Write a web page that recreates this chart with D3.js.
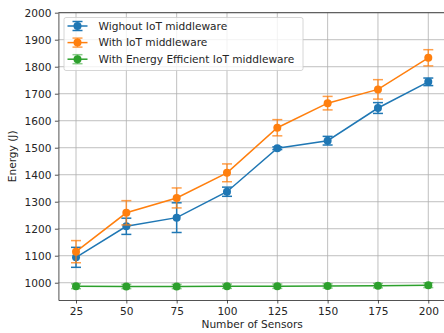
<!DOCTYPE html>
<html>
<head>
<meta charset="utf-8">
<script src="https://cdn.jsdelivr.net/npm/d3@7"></script>
<style>
  body { margin: 0; background: #fff; }
  text { font-family: "DejaVu Sans", sans-serif; fill: #262626; }
</style>
</head>
<body>
<div id="chart"></div>
<script>
// data
const sensors = [25, 50, 75, 100, 125, 150, 175, 200];
const seriesNames = ["Wighout IoT middleware", "With IoT middleware", "With Energy Efficient IoT middleware"];
const withoutMean = [1094, 1209, 1241, 1337, 1498, 1526, 1647, 1744];
const withoutErr  = [37, 30, 55, 17, 5, 16, 20, 14];
const withMean    = [1115, 1259, 1314, 1407, 1574, 1665, 1716, 1833];
const withErr     = [41, 45, 37, 33, 30, 25, 36, 30];
const effMean     = [987, 986, 986, 987, 987, 988, 989, 991];
const effErr      = [9, 8, 8, 8, 8, 8, 8, 9];
const yTicks = [1000, 1100, 1200, 1300, 1400, 1500, 1600, 1700, 1800, 1900, 2000];
const colors = ["#1f77b4", "#ff7f0e", "#2ca02c"];

const W = 444, H = 333;
const plot = { left: 58.4, right: 445.9, top: 12.7, bottom: 300 };

const svg = d3.select("#chart").append("svg")
  .attr("width", W).attr("height", H)
  .attr("viewBox", [0, 0, W, H]);

const x = d3.scaleLinear().domain([16.25, 208.75]).range([plot.left, plot.right]);
const y = d3.scaleLinear().domain([936, 2000]).range([plot.bottom, plot.top]);

// grid
const grid = svg.append("g");
grid.selectAll("line.gx").data(sensors).join("line")
  .attr("x1", d => x(d)).attr("x2", d => x(d))
  .attr("y1", plot.top).attr("y2", plot.bottom)
  .attr("stroke", "#b0b0b0").attr("stroke-width", 0.8);
grid.selectAll("line.gy").data(yTicks).join("line")
  .attr("x1", plot.left).attr("x2", plot.right)
  .attr("y1", d => y(d)).attr("y2", d => y(d))
  .attr("stroke", "#b0b0b0").attr("stroke-width", 0.8);

// axes
const xAxis = svg.append("g")
  .attr("transform", `translate(0,${plot.bottom})`)
  .call(d3.axisBottom(x).tickValues(sensors).tickFormat(d3.format("d"))
    .tickSize(3.5).tickPadding(3.5).tickSizeOuter(0));
const yAxis = svg.append("g")
  .attr("transform", `translate(${plot.left},0)`)
  .call(d3.axisLeft(y).tickValues(yTicks).tickFormat(d3.format("d"))
    .tickSize(3.5).tickPadding(3.5).tickSizeOuter(0));
[xAxis, yAxis].forEach(a => {
  a.selectAll("text").attr("font-size", 10.6).attr("font-family", "DejaVu Sans").attr("fill", "#262626");
  a.selectAll("line").attr("stroke", "#262626").attr("stroke-width", 0.8);
  a.select(".domain").attr("stroke", "#262626").attr("stroke-width", 0.8);
});
// top + right spines
svg.append("line").attr("x1", plot.left).attr("x2", plot.right)
  .attr("y1", plot.top).attr("y2", plot.top).attr("stroke", "#262626").attr("stroke-width", 0.8);
svg.append("line").attr("x1", plot.right).attr("x2", plot.right)
  .attr("y1", plot.top).attr("y2", plot.bottom).attr("stroke", "#262626").attr("stroke-width", 0.8);

svg.append("text")
  .attr("x", (plot.left + plot.right) / 2).attr("y", 328)
  .attr("text-anchor", "middle").attr("font-size", 10.6)
  .text("Number of Sensors");
svg.append("text")
  .attr("transform", `translate(16,${(plot.top + plot.bottom) / 2}) rotate(-90)`)
  .attr("text-anchor", "middle").attr("font-size", 10.6)
  .text("Energy (J)");

// series
const series = [
  { mean: withoutMean, err: withoutErr, errOpacity: 1 },
  { mean: withMean, err: withErr, errOpacity: 0.75 },
  { mean: effMean, err: effErr, errOpacity: 0.55 }
];
const CAP = 5;
const line = d3.line().x((d, i) => x(sensors[i])).y(d => y(d));

series.forEach((s, k) => {
  const g = svg.append("g");
  const pts = sensors.map((v, i) => ({ s: v, m: s.mean[i], e: s.err[i] }));
  const eg = g.append("g").attr("stroke", colors[k]).attr("stroke-width", 1.5)
    .attr("stroke-opacity", s.errOpacity);
  eg.selectAll("line.v").data(pts).join("line")
    .attr("x1", d => x(d.s)).attr("x2", d => x(d.s))
    .attr("y1", d => y(d.m - d.e)).attr("y2", d => y(d.m + d.e));
  eg.selectAll("line.ct").data(pts).join("line").attr("class", "ct")
    .attr("x1", d => x(d.s) - CAP).attr("x2", d => x(d.s) + CAP)
    .attr("y1", d => y(d.m + d.e)).attr("y2", d => y(d.m + d.e));
  eg.selectAll("line.cb").data(pts).join("line").attr("class", "cb")
    .attr("x1", d => x(d.s) - CAP).attr("x2", d => x(d.s) + CAP)
    .attr("y1", d => y(d.m - d.e)).attr("y2", d => y(d.m - d.e));
  g.append("path").datum(s.mean)
    .attr("d", line).attr("fill", "none")
    .attr("stroke", colors[k]).attr("stroke-width", 1.5);
  g.selectAll("circle").data(pts).join("circle")
    .attr("cx", d => x(d.s)).attr("cy", d => y(d.m)).attr("r", 4)
    .attr("fill", colors[k]);
});

// legend
const lg = svg.append("g");
lg.append("rect").attr("x", 64).attr("y", 17.5).attr("width", 239).attr("height", 53)
  .attr("rx", 2).attr("fill", "#fff").attr("fill-opacity", 0.8)
  .attr("stroke", "#cccccc").attr("stroke-width", 0.8);
seriesNames.forEach((name, k) => {
  const cy = 26 + k * 16.6;
  const row = lg.append("g");
  const op = series[k].errOpacity;
  row.append("line").attr("x1", 77.5).attr("x2", 77.5).attr("y1", cy - 4.5).attr("y2", cy + 4.5)
    .attr("stroke", colors[k]).attr("stroke-width", 1.5).attr("stroke-opacity", op);
  [-4.5, 4.5].forEach(dy => row.append("line")
    .attr("x1", 72.5).attr("x2", 82.5).attr("y1", cy + dy).attr("y2", cy + dy)
    .attr("stroke", colors[k]).attr("stroke-width", 1.5).attr("stroke-opacity", op));
  row.append("line").attr("x1", 67.5).attr("x2", 87.5).attr("y1", cy).attr("y2", cy)
    .attr("stroke", colors[k]).attr("stroke-width", 1.5);
  row.append("circle").attr("cx", 77.5).attr("cy", cy).attr("r", 4).attr("fill", colors[k]);
  row.append("text").attr("x", 98.5).attr("y", cy).attr("dy", "0.35em")
    .attr("font-size", 10.6).text(name);
});
</script>
</body>
</html>
